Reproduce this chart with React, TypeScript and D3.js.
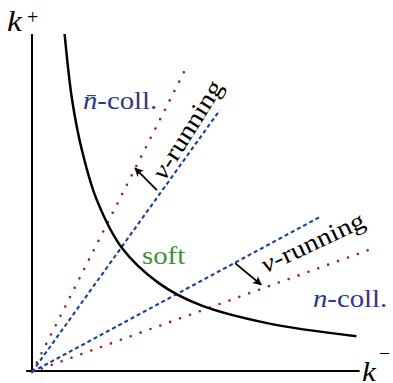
import React from "react";
import * as d3 from "d3";

const width = 393;
const height = 383;

// hyperbola k+ k- = const
const curveKm = [1.0, 1.23, 1.53, 1.99, 2.76, 3.9, 5.15, 7.21, 9.95];
const curveKp = [10.0, 8.05, 6.56, 5.07, 3.65, 2.6, 1.96, 1.42, 1.03];

// rays from the origin (end points)
const rayNames = ["redUp", "blueUp", "blueLow", "redLow"];
const rayEndKm = [4.71, 5.76, 8.83, 10.58];
const rayEndKp = [8.96, 7.74, 4.57, 3.68];
const rayKind = ["dot", "dash", "dash", "dot"];

// arrows (from, to)
const arrowFrom = [[3.83, 5.37], [6.23, 3.2]];
const arrowTo = [[3.16, 6.02], [7.03, 2.56]];

const RED = "#a11a1f";
const BLUE = "#1a3e9c";
const TEXTBLUE = "#28398f";
const GREEN = "#3f8d3f";

const css = `
  svg.chart text { font-family: "Liberation Serif", "DejaVu Serif", serif !important; }
  svg.chart .it { font-style: italic; }
`;

const App = () => {
  const x = d3.scaleLinear().domain([0, 10]).range([32, 358]);
  const y = d3.scaleLinear().domain([0, 10]).range([371, 34]);

  const pts: [number, number][] = curveKm.map((d, i) => [d, curveKp[i]]);
  const curvePath = d3
    .line<[number, number]>()
    .x((d) => x(d[0]))
    .y((d) => y(d[1]))
    .curve(d3.curveCatmullRom)(pts);

  // CM-like glyphs are wider than Times: stretch text horizontally
  const wide = (tx: number, ty: number, rot = 0) =>
    `translate(${tx},${ty}) rotate(${rot}) scale(1.15,1)`;

  return (
    <svg
      className="chart"
      width={width}
      height={height}
      style={{ position: "fixed", left: 0, top: 0, background: "#fff" }}
    >
      <style>{css}</style>
      <defs>
        <marker
          id="head"
          viewBox="0 0 10 10"
          refX="9"
          refY="5"
          markerWidth="9"
          markerHeight="9"
          markerUnits="userSpaceOnUse"
          orient="auto"
        >
          <path d="M0,0 Q4,5 0,10 L10,5 Z" fill="#000" />
        </marker>
      </defs>

      {/* axes */}
      <line x1={x(-0.18)} x2={x(10.05)} y1={y(0)} y2={y(0)} stroke="#000" strokeWidth={2} />
      <line x1={x(0)} x2={x(0)} y1={y(0)} y2={y(10)} stroke="#000" strokeWidth={2} />

      {/* rays */}
      {rayNames.map((n, i) => (
        <line
          key={n}
          x1={x(0)}
          y1={y(-0.03)}
          x2={x(rayEndKm[i])}
          y2={y(rayEndKp[i])}
          stroke={rayKind[i] === "dot" ? RED : BLUE}
          strokeWidth={rayKind[i] === "dot" ? 2.6 : 2.1}
          strokeDasharray={rayKind[i] === "dot" ? "0 10.5" : "4 3"}
          strokeLinecap={rayKind[i] === "dot" ? "round" : "butt"}
        />
      ))}

      {/* soft curve */}
      <path d={curvePath || ""} fill="none" stroke="#000" strokeWidth={2.5} />

      {/* arrows */}
      {arrowFrom.map((f, i) => (
        <line
          key={i}
          x1={x(f[0])}
          y1={y(f[1])}
          x2={x(arrowTo[i][0])}
          y2={y(arrowTo[i][1])}
          stroke="#000"
          strokeWidth={1.8}
          markerEnd="url(#head)"
        />
      ))}

      {/* labels */}
      <text className="it" transform={wide(7, 31)} fontSize={29}>k</text>
      <text x={27} y={24} fontSize={20}>+</text>
      <text className="it" transform={wide(362, 381)} fontSize={27}>k</text>
      <text x={379} y={360} fontSize={20}>−</text>

      <text transform={wide(83, 109)} fontSize={25} fill={TEXTBLUE}>
        <tspan className="it">n̄</tspan>-coll.
      </text>
      <text transform={wide(313, 307)} fontSize={25} fill={TEXTBLUE}>
        <tspan className="it">n</tspan>-coll.
      </text>
      <text transform={wide(142, 264)} fontSize={25} fill={GREEN}>
        soft
      </text>

      <text transform={wide(188, 130, -58)} fontSize={25} textAnchor="middle" dy="0.3em">
        <tspan className="it">ν</tspan>-running
      </text>
      <text transform={wide(313, 243, -25)} fontSize={25} textAnchor="middle" dy="0.3em">
        <tspan className="it">ν</tspan>-running
      </text>
    </svg>
  );
};

export default App;
